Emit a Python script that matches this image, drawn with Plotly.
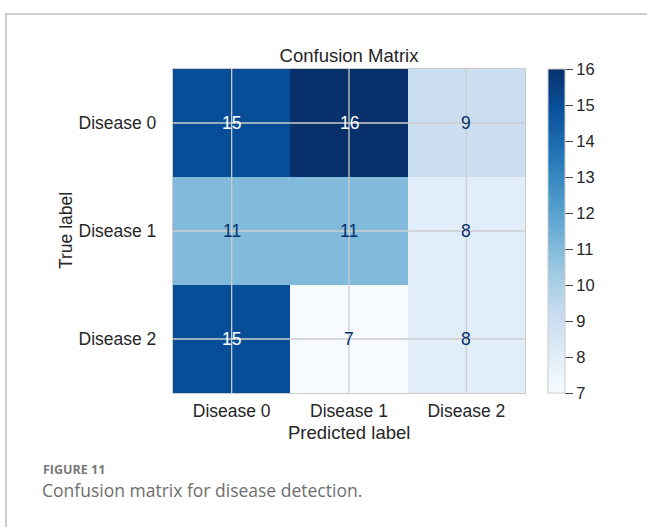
import plotly.graph_objects as go

# Confusion matrix data
true_labels = ["Disease 0", "Disease 1", "Disease 2"]
pred_labels = ["Disease 0", "Disease 1", "Disease 2"]
counts = [
    [15, 16, 9],
    [11, 11, 8],
    [15, 7, 8],
]
cbar_ticks = [7, 8, 9, 10, 11, 12, 13, 14, 15, 16]

W, H = 647, 527
L, R, T, B = 173, 122, 69, 134
PW, PH = W - L - R, H - T - B


def px2x(px):
    return (px - L) / PW


def px2y(py):
    return (H - B - py) / PH


INK = "#262626"
GRID = "#cccccc"
FONT = "Liberation Sans, Arial, sans-serif"

fig = go.Figure()
fig.add_trace(go.Heatmap(
    z=counts, x=pred_labels, y=true_labels,
    colorscale="Blues", zmin=7, zmax=16,
    hoverinfo="skip",
    colorbar=dict(
        x=px2x(548), xanchor="left", xpad=0,
        y=0.5, yanchor="middle", len=1, lenmode="fraction", ypad=0,
        thickness=17, outlinewidth=1, outlinecolor=GRID,
        tickvals=cbar_ticks, ticks="outside", ticklen=8,
        tickcolor="#444444", tickwidth=1,
        tickfont=dict(family=FONT, size=16.5, color=INK),
    ),
))

# cell values; white text on the dark cells
zmin = min(min(r) for r in counts)
zmax = max(max(r) for r in counts)
thresh = (zmin + zmax) / 2
for i, t in enumerate(true_labels):
    for j, p in enumerate(pred_labels):
        v = counts[i][j]
        fig.add_annotation(
            x=p, y=t, text=str(v), showarrow=False,
            font=dict(family=FONT, size=17.5,
                      color="white" if v > thresh else "#08306b"),
        )

shapes = []
# grid lines through the cell centres, drawn over the heatmap
for p in pred_labels:
    shapes.append(dict(type="line", xref="x", yref="paper", x0=p, x1=p,
                       y0=0, y1=1, line=dict(color=GRID, width=1.3),
                       layer="above"))
for t in true_labels:
    shapes.append(dict(type="line", xref="paper", yref="y", x0=0, x1=1,
                       y0=t, y1=t, line=dict(color=GRID, width=1.3),
                       layer="above"))
# figure frame (top and left edges)
shapes.append(dict(type="path", xref="paper", yref="paper",
                   path=f"M {px2x(6)},{px2y(560)} L {px2x(6)},{px2y(14)} L {px2x(700)},{px2y(14)}",
                   line=dict(color="#bfbfbf", width=1.6)))

annotations = [
    dict(text="Predicted label", x=0.5, y=px2y(432), xref="paper", yref="paper",
         showarrow=False, yanchor="middle", xanchor="center",
         font=dict(family=FONT, size=18.5, color=INK)),
    dict(text="True label", x=px2x(66), y=0.5, xref="paper", yref="paper",
         showarrow=False, textangle=-90, xanchor="center", yanchor="middle",
         font=dict(family=FONT, size=17.5, color=INK)),
    dict(text="<b>FIGURE 11</b>", x=px2x(41), y=px2y(469), xref="paper", yref="paper",
         showarrow=False, xanchor="left", yanchor="middle",
         font=dict(family="Open Sans, sans-serif", size=12.5, color="#7a7a7a")),
    dict(text="Confusion matrix for disease detection.", x=px2x(40), y=px2y(490),
         xref="paper", yref="paper", showarrow=False, xanchor="left", yanchor="middle",
         font=dict(family="Open Sans, sans-serif", size=17.5, color="#6e6e6e")),
]
for a in annotations:
    fig.add_annotation(**a)

fig.update_layout(
    width=W, height=H,
    margin=dict(l=L, r=R, t=T, b=B, pad=0),
    paper_bgcolor="white", plot_bgcolor="white",
    title=dict(text="Confusion Matrix", x=0.5, xref="paper", xanchor="center",
               y=1 - 56 / H, yref="container", yanchor="middle",
               font=dict(family=FONT, size=18.5, color=INK)),
    shapes=shapes,
    showlegend=False,
)
fig.update_xaxes(
    type="category", categoryorder="array", categoryarray=pred_labels,
    showgrid=False, zeroline=False,
    showline=True, mirror=True, linecolor=GRID, linewidth=1.3,
    ticks="outside", ticklen=2, tickcolor="rgba(0,0,0,0)",
    tickfont=dict(family=FONT, size=17.5, color=INK),
)
fig.update_yaxes(
    type="category", categoryorder="array", categoryarray=true_labels,
    autorange="reversed",
    showgrid=False, zeroline=False,
    showline=True, mirror=True, linecolor=GRID, linewidth=1.3,
    ticks="outside", ticklen=12, tickcolor="rgba(0,0,0,0)",
    tickfont=dict(family=FONT, size=17.5, color=INK),
)

fig.write_html("out.html")
